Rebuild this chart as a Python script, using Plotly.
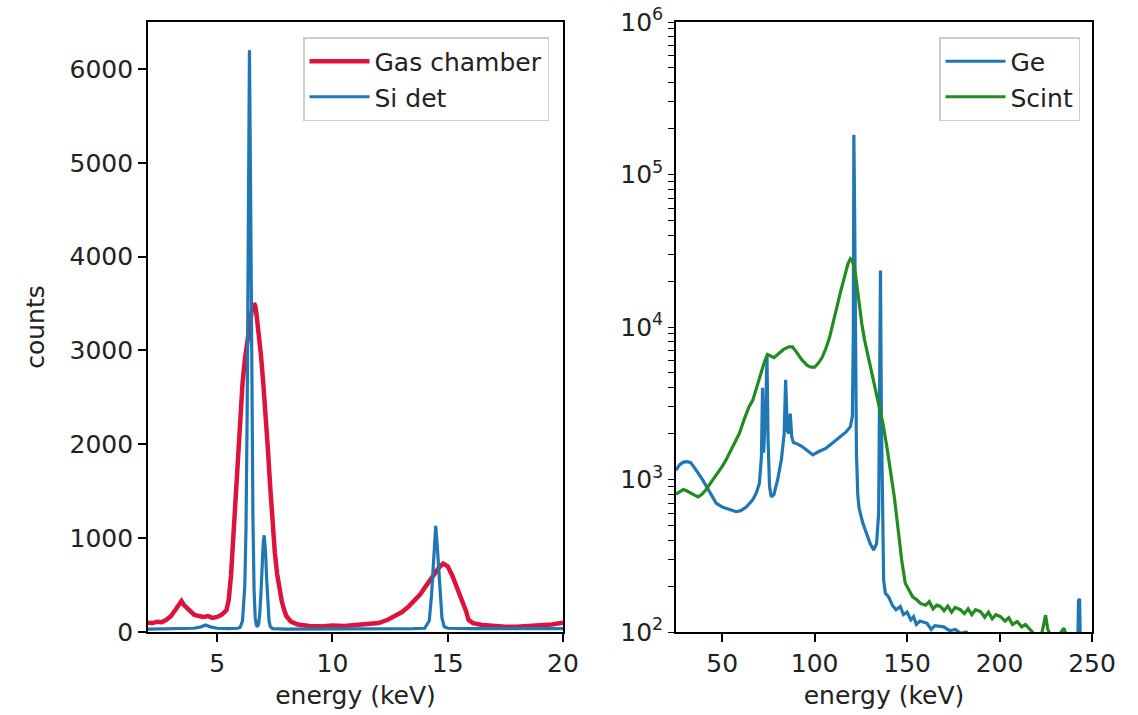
import plotly.graph_objects as go

# ---------------- data ----------------
# Left panel: Gas chamber
gas_energy = [2.0, 2.2, 2.4, 2.6, 2.8, 3.0, 3.2, 3.35, 3.45, 3.55, 3.7, 3.85, 4.0, 4.2, 4.4,
              4.6, 4.8, 5.0, 5.2, 5.4, 5.5, 5.6, 5.7, 5.8, 5.9, 6.0, 6.1, 6.2, 6.3, 6.4,
              6.5, 6.6, 6.65, 6.7, 6.8, 6.9, 7.0, 7.1, 7.2, 7.3, 7.4, 7.5, 7.6, 7.7, 7.8,
              7.9, 8.0, 8.2, 8.5, 9.0, 9.5, 10.0, 10.5, 11.0, 11.5, 12.0, 12.4, 12.7, 13.0,
              13.3, 13.6, 13.8, 14.0, 14.2, 14.4, 14.6, 14.8, 15.0, 15.2, 15.4, 15.6, 15.8,
              15.9, 16.1, 16.5, 17.0, 17.5, 18.0, 18.5, 19.0, 19.5, 20.0]
gas_counts = [100, 95, 110, 105, 130, 170, 240, 300, 330, 290, 250, 210, 185, 170, 160,
              170, 150, 160, 185, 230, 340, 600, 1000, 1500, 1900, 2350, 2650, 2900, 3100, 3300,
              3420, 3500, 3480, 3400, 3200, 2950, 2650, 2350, 1950, 1550, 1150, 850, 620, 450, 330,
              240, 170, 110, 80, 65, 60, 70, 65, 75, 80, 95, 130, 165, 210,
              270, 340, 400, 470, 540, 620, 680, 730, 700, 600, 480, 340, 220,
              130, 95, 75, 60, 55, 55, 60, 65, 80, 100]

# Left panel: Si det
si_energy = [2.0, 3.0, 4.0, 4.3, 4.5, 4.7, 5.0, 5.5, 5.9, 6.0, 6.1, 6.2, 6.25, 6.3, 6.35,
             6.4, 6.45, 6.5, 6.55, 6.6, 6.65, 6.7, 6.75, 6.8, 6.85, 6.9, 6.95, 7.0, 7.04,
             7.1, 7.15, 7.2, 7.25, 7.3, 7.4, 8.0, 10.0, 12.0, 13.5, 14.0, 14.2, 14.3, 14.4,
             14.48, 14.55, 14.65, 14.75, 14.85, 15.0, 16.0, 18.0, 20.0]
si_counts = [30, 35, 40, 55, 75, 55, 40, 35, 40, 50, 120, 500, 1100, 2300, 4300,
             6200, 4700, 2700, 1250, 450, 150, 70, 55, 90, 200, 420, 720, 960, 1030,
             850, 550, 280, 120, 60, 35, 30, 30, 30, 35, 40, 120, 400, 850,
             1130, 900, 450, 150, 55, 40, 35, 35, 35]

# Right panel: Ge
ge_energy = [25, 27, 29, 31, 33, 35, 37, 39.5, 42, 44.5, 46.7, 50, 53, 57.5, 60, 63, 66.5,
             68.5, 70.1, 71.2, 71.8, 72.4, 73.0, 73.6, 74.2, 74.8, 75.6, 76.5, 78, 80, 82,
             83.5, 84.3, 85.2, 86.0, 86.8, 87.6, 88.5, 90, 93, 96, 99, 102, 106, 110, 114,
             117, 119.3, 120.4, 120.9, 121.2, 121.6, 122.1, 122.6, 123.3, 124, 126, 128,
             130, 131.9, 133.5, 134.6, 135.2, 135.6, 136.1, 136.7, 137.3, 138.2, 140, 142,
             144, 146.3, 148, 150, 152, 153.5, 155, 157, 160.8, 163, 165, 169.8, 173, 176,
             179, 182, 185, 190, 200, 210, 220, 230, 240, 242.2, 242.7, 243.3, 243.8, 250]
ge_counts = [1150, 1250, 1300, 1310, 1290, 1200, 1100, 990, 880, 780, 700, 660, 640, 615,
             625, 660, 735, 820, 945, 1400, 4000, 1500, 2200, 3000, 6500, 1800, 900, 770,
             800, 1000, 1350, 2000, 4500, 2100, 2000, 2700, 1900, 1750, 1725, 1650, 1550,
             1450, 1520, 1600, 1750, 1900, 2050, 2220, 2600, 9000, 182000, 60000, 6000,
             1500, 800, 650, 520, 440, 380, 345, 380, 600, 4000, 23500, 2500, 400, 220,
             180, 170, 150, 140, 147, 130, 135, 120, 126, 112, 118, 114, 104, 110, 108,
             102, 104, 98, 100, 90, 85, 80, 75, 70, 70, 70, 70, 160, 165, 70, 70]

# Right panel: Scint
sc_energy = [25, 27, 29, 31, 33, 35, 37, 39, 41, 43, 45, 47, 50, 52, 55, 57, 59.3, 62,
             64.5, 66.5, 69, 71, 73, 74.5, 76, 78, 80, 83, 86, 88, 90, 93, 96, 98, 100,
             102, 104, 106, 108, 110, 112, 114, 116, 118, 119.3, 120.5, 122, 123.8, 125.5,
             127, 128.5, 130.1, 132, 134, 135.5, 137, 139, 141, 143, 145.4, 147, 149,
             151.8, 153, 155.4, 157.2, 160, 162, 164, 166, 168, 170, 172, 174, 176, 178.8,
             181, 183, 185, 187, 189.7, 192, 194, 196, 198, 200.5, 203, 205, 207, 209.6,
             212, 214, 216.8, 219, 221, 223, 224.9, 226, 228, 230, 232, 234.8, 236, 238,
             242, 250]
sc_counts = [800, 830, 860, 840, 810, 790, 770, 800, 850, 920, 990, 1080, 1220, 1340, 1600,
             1800, 2010, 2500, 3000, 3300, 4200, 5000, 6000, 6600, 6450, 6300, 6600, 7100,
             7400, 7400, 6900, 6100, 5600, 5450, 5450, 5800, 6300, 7200, 8500, 10500, 13500,
             17000, 21500, 26000, 28000, 27000, 22500, 15000, 10500, 8200, 6800, 5600, 4300,
             3500, 2900, 2300, 1650, 1150, 780, 443, 300, 209, 180, 170, 162, 154, 150, 158,
             142, 150, 147, 138, 148, 135, 145, 140, 132, 142, 130, 140, 136, 125, 135, 122,
             130, 126, 118, 124, 112, 117, 108, 112, 103, 95, 90, 100, 129, 105, 92, 90, 95,
             106, 96, 88, 85, 80]

left_xticks = [5, 10, 15, 20]
left_yticks = [0, 1000, 2000, 3000, 4000, 5000, 6000]
right_xticks = [50, 100, 150, 200, 250]
right_yticks = [100, 1000, 10000, 100000, 1000000]
right_yticklabels = ["10<sup>2</sup>", "10<sup>3</sup>", "10<sup>4</sup>",
                     "10<sup>5</sup>", "10<sup>6</sup>"]
right_minor_yticks = [m * 10 ** e for e in range(2, 6) for m in range(2, 10)]

# ---------------- figure ----------------
W, H = 1138, 715
FONT = dict(family="DejaVu Sans", size=25, color="#222222")
RED = "#DC143C"
BLUE = "#1f77b4"
GREEN = "#228B22"

fig = go.Figure()
fig.add_trace(go.Scatter(x=gas_energy, y=gas_counts, mode="lines", name="Gas chamber",
                         line=dict(color=RED, width=4.5), xaxis="x", yaxis="y", legend="legend"))
fig.add_trace(go.Scatter(x=si_energy, y=si_counts, mode="lines", name="Si det",
                         line=dict(color=BLUE, width=3.2), xaxis="x", yaxis="y", legend="legend"))
fig.add_trace(go.Scatter(x=ge_energy, y=ge_counts, mode="lines", name="Ge",
                         line=dict(color=BLUE, width=3.2), xaxis="x2", yaxis="y2", legend="legend2"))
fig.add_trace(go.Scatter(x=sc_energy, y=sc_counts, mode="lines", name="Scint",
                         line=dict(color=GREEN, width=3.2), xaxis="x2", yaxis="y2", legend="legend2"))

axis_common = dict(showline=True, mirror=True, linecolor="black", linewidth=1.6,
                   ticks="outside", ticklen=8, tickwidth=1.6, tickcolor="black",
                   showgrid=False, zeroline=False, automargin=False, tickfont=FONT)

# major + minor ticks on the log axis (minor ones unlabeled)
log_tickvals = right_yticks + right_minor_yticks
log_ticktext = right_yticklabels + [""] * len(right_minor_yticks)
log_axis = dict(axis_common)
log_axis.update(ticklen=6, tickwidth=1.4)

ydom = [1 - 632 / H, 1 - 22 / H]
legend_common = dict(y=1 - 37 / H, xanchor="right", yanchor="top",
                     bgcolor="rgba(255,255,255,0.8)", bordercolor="#cccccc", borderwidth=1.5,
                     font=FONT, tracegroupgap=0, itemwidth=60)
fig.update_layout(
    width=W, height=H, autosize=False,
    margin=dict(l=0, r=0, t=0, b=0),
    paper_bgcolor="white", plot_bgcolor="white",
    font=FONT,
    xaxis=dict(domain=[148 / W, 563 / W], range=[2, 20], tickvals=left_xticks,
               title=dict(text="energy (keV)", font=FONT, standoff=10), anchor="y", **axis_common),
    yaxis=dict(domain=ydom, range=[0, 6500], tickvals=left_yticks,
               title=dict(text="counts", font=FONT, standoff=18), anchor="x", **axis_common),
    xaxis2=dict(domain=[676 / W, 1092 / W], range=[25, 250], tickvals=right_xticks,
                title=dict(text="energy (keV)", font=FONT, standoff=10), anchor="y2", **axis_common),
    yaxis2=dict(domain=ydom, type="log", range=[2, 6], tickmode="array", tickvals=log_tickvals,
                ticktext=log_ticktext, anchor="x2", **log_axis),
    legend=dict(x=549 / W, **legend_common),
    legend2=dict(x=1080 / W, **legend_common),
    showlegend=True,
)

fig.write_html("out.html")
